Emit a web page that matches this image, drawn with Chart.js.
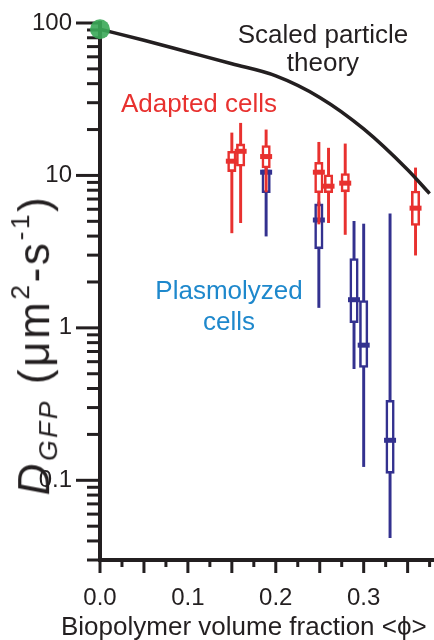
<!DOCTYPE html>
<html>
<head>
<meta charset="utf-8">
<script src="https://cdn.jsdelivr.net/npm/chart.js@4.4.1/dist/chart.umd.min.js"></script>
<style>
  body { margin: 0; background: #fff; }
  #wrap { position: relative; width: 434px; height: 640px; font-family: 'Liberation Sans', Arial, sans-serif; color: #231f20; }
  canvas { position: absolute; left: 0; top: 0; }
  .txt { position: absolute; white-space: nowrap; font-size: 26px; line-height: 28px; text-align: center; }
  #ytitulo { position: absolute; left: 34px; top: 345px; transform: translate(-50%, -50%) rotate(-90deg); white-space: nowrap; font-size: 44px; line-height: 46px; letter-spacing: 2.6px; }
  #ytitulo sub { font-size: 0.6em; vertical-align: -0.3em; font-style: italic; }
  #ytitulo sup { font-size: 0.6em; vertical-align: 0.75em; }
</style>
</head>
<body>
<div id="wrap">
  <canvas id="grafico" width="434" height="640"></canvas>
  <div class="txt" style="left:223px; top:20px; width:200px;">Scaled particle<br>theory</div>
  <div class="txt" style="left:99px; top:89px; width:200px; color:#e8312f;">Adapted cells</div>
  <div class="txt" style="left:129px; top:275px; width:200px; line-height:31px; color:#1e88cc;">Plasmolyzed<br>cells</div>
  <div class="txt" style="left:61px; top:612px; text-align:left;">Biopolymer volume fraction &lt;ϕ&gt;</div>
  <div id="ytitulo"><i>D</i><sub>GFP</sub> (μm<sup>2</sup>-s<sup>-1</sup>)</div>
</div>
<script>

// células adaptadas (vermelho)
const phiAdaptadas = [0.150, 0.160, 0.189, 0.249, 0.260, 0.279, 0.359];
const minAdaptadas = [4.2, 4.9, 7.8, 4.8, 4.9, 4.1, 3.0];
const q1Adaptadas  = [10.6, 11.5, 11.2, 7.7, 7.7, 7.8, 4.7];
const medAdaptadas = [12.4, 14.4, 13.3, 10.5, 8.5, 8.9, 6.1];
const q3Adaptadas  = [14.4, 16.1, 15.7, 12.2, 10.1, 10.3, 7.9];
const maxAdaptadas = [19.0, 22.0, 19.9, 16.5, 15.1, 16.1, 11.2];

// células plasmolisadas (azul)
const phiPlasmo = [0.189, 0.249, 0.289, 0.300, 0.330];
const minPlasmo = [4.0, 1.36, 0.54, 0.123, 0.042];
const q1Plasmo  = [7.7, 3.3, 1.08, 0.55, 0.111];
const medPlasmo = [10.5, 5.1, 1.53, 0.77, 0.183];
const q3Plasmo  = [10.9, 6.5, 2.85, 1.51, 0.335];
const maxPlasmo = [15.4, 6.7, 5.0, 4.8, 5.6];

// teoria da partícula escalada
const phiTeoria = [0, 0.05, 0.1, 0.15, 0.2, 0.25, 0.3, 0.35, 0.375];
const dTeoria   = [91, 77, 64.5, 54, 45, 32.5, 20.2, 10.9, 7.6];

// ponto verde (água pura)
const phiVerde = [0];
const dVerde   = [91];

// eixos
const xRotulos = [0, 0.1, 0.2, 0.3];
const xTextos  = ["0.0", "0.1", "0.2", "0.3"];
const xMaiores = [0, 0.05, 0.1, 0.15, 0.2, 0.25, 0.3, 0.35];
const xMenores = [0.025, 0.075, 0.125, 0.175, 0.225, 0.275, 0.325, 0.375];
const yMaiores = [0.1, 1, 10, 100];
const yTextos  = ["0.1", "1", "10", "100"];
const yMenores = [0.03, 0.04, 0.05, 0.06, 0.07, 0.08, 0.09,
                  0.2, 0.3, 0.4, 0.5, 0.6, 0.7, 0.8, 0.9,
                  2, 3, 4, 5, 6, 7, 8, 9,
                  20, 30, 40, 50, 60, 70, 80, 90];

const VERMELHO = '#e8312f';
const AZUL = '#33318f';
const PRETO = '#231f20';

function pares(xs, a, b){
  return xs.map((x, i) => ({ x: x, y: [a[i], b[i]] }));
}

function pontos(xs, ys){
  return xs.map((x, i) => ({ x: x, y: ys[i] }));
}

function bigodes(xs, a, b, cor, ordem){
  return {
    type: 'bar', data: pares(xs, a, b), grouped: false,
    barThickness: 2.3, backgroundColor: cor, borderWidth: 0, order: ordem
  };
}

function caixas(xs, a, b, cor, ordem){
  return {
    type: 'bar', data: pares(xs, a, b), grouped: false,
    barThickness: 8.5, backgroundColor: '#fff', borderColor: cor,
    borderWidth: 2.6, borderSkipped: false, order: ordem
  };
}

function medianas(xs, ys, cor, ordem){
  return {
    type: 'line', data: pontos(xs, ys), showLine: false,
    pointStyle: 'line', pointRadius: 6, pointBorderWidth: 5,
    pointBorderColor: cor, order: ordem
  };
}

// marcas dos eixos
const marcas = {
  id: 'marcas',
  beforeDatasetsDraw(chart){
    const ctx = chart.ctx;
    const area = chart.chartArea;
    const sx = chart.scales.x;
    const sy = chart.scales.y;
    ctx.save();
    ctx.strokeStyle = PRETO;
    ctx.lineWidth = 3;
    const traco = (x1, y1, x2, y2) => {
      ctx.beginPath(); ctx.moveTo(x1, y1); ctx.lineTo(x2, y2); ctx.stroke();
    };
    yMaiores.forEach(v => { const p = sy.getPixelForValue(v); traco(area.left - 24, p, area.left + 1, p); });
    yMenores.forEach(v => { const p = sy.getPixelForValue(v); traco(area.left - 13, p, area.left + 1, p); });
    xMaiores.forEach(v => { const p = sx.getPixelForValue(v); traco(p, area.bottom, p, area.bottom + 13); });
    xMenores.forEach(v => { const p = sx.getPixelForValue(v); traco(p, area.bottom, p, area.bottom + 7); });
    ctx.restore();
  }
};

const fonte = { family: "'Liberation Sans', Arial, sans-serif", size: 24 };

new Chart(document.getElementById('grafico'), {
  type: 'bar',
  data: {
    datasets: [
      {
        type: 'line', data: pontos(phiVerde, dVerde), showLine: false,
        pointRadius: 10, pointBackgroundColor: 'rgba(58,168,88,0.9)',
        pointBorderWidth: 0, clip: false, order: 0
      },
      {
        type: 'line', data: pontos(phiTeoria, dTeoria), borderColor: PRETO,
        borderWidth: 3.5, pointRadius: 0, cubicInterpolationMode: 'monotone',
        clip: false, order: 1
      },
      medianas(phiAdaptadas, medAdaptadas, VERMELHO, 2),
      caixas(phiAdaptadas, q1Adaptadas, q3Adaptadas, VERMELHO, 3),
      bigodes(phiAdaptadas, minAdaptadas, maxAdaptadas, VERMELHO, 4),
      medianas(phiPlasmo, medPlasmo, AZUL, 5),
      caixas(phiPlasmo, q1Plasmo, q3Plasmo, AZUL, 6),
      bigodes(phiPlasmo, minPlasmo, maxPlasmo, AZUL, 7)
    ]
  },
  options: {
    responsive: false,
    animation: false,
    layout: { autoPadding: false, padding: { top: 23, right: 0, left: 0, bottom: 0 } },
    plugins: { legend: { display: false }, tooltip: { enabled: false } },
    scales: {
      x: {
        type: 'linear', min: 0, max: 0.38, offset: false,
        grid: { display: false, drawTicks: false, tickLength: 0 },
        border: { display: true, color: PRETO, width: 4 },
        afterBuildTicks: s => { s.ticks = xRotulos.map(v => ({ value: v })); },
        afterFit: s => { s.height = 80; s.paddingLeft = 0; s.paddingRight = 0; },
        ticks: {
          padding: 24, maxRotation: 0, autoSkip: false, color: PRETO, font: fonte,
          callback: v => xTextos[xRotulos.indexOf(v)]
        }
      },
      y: {
        type: 'logarithmic', min: 0.03, max: 100,
        grid: { display: false, drawTicks: false, tickLength: 0 },
        border: { display: true, color: PRETO, width: 4 },
        afterBuildTicks: s => { s.ticks = yMaiores.map(v => ({ value: v })); },
        afterFit: s => { s.width = 100; s.paddingTop = 0; s.paddingBottom = 0; },
        ticks: {
          padding: 28, autoSkip: false, color: PRETO, font: fonte,
          callback: v => yTextos[yMaiores.indexOf(v)]
        }
      }
    }
  },
  plugins: [marcas]
});

</script>
</body>
</html>
